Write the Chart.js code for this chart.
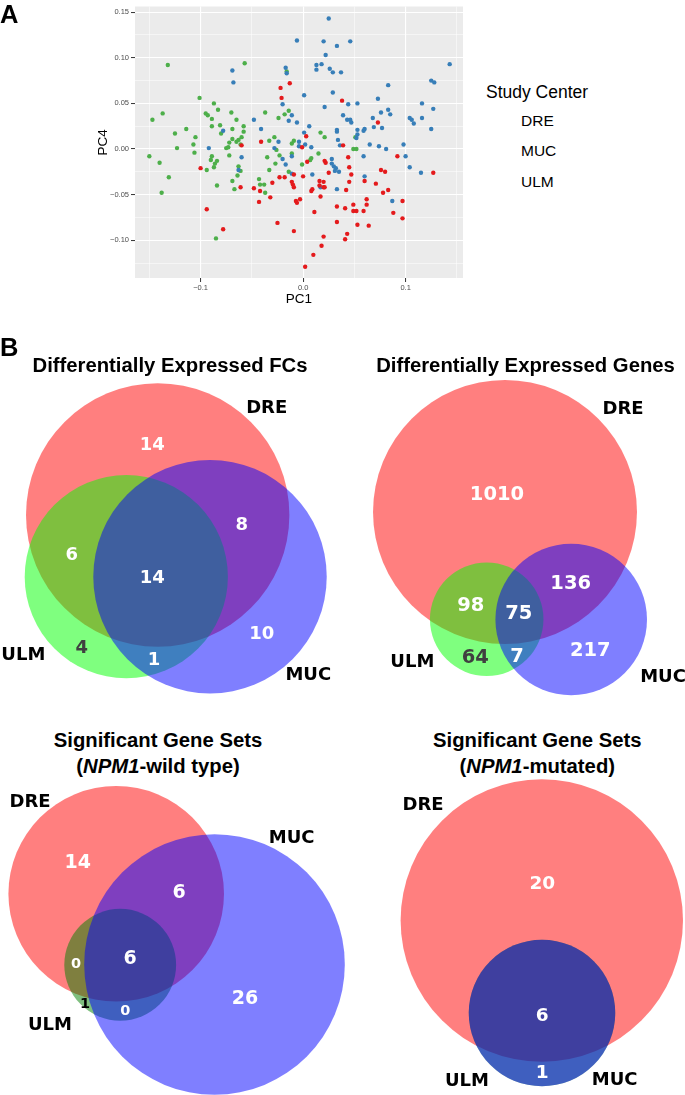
<!DOCTYPE html>
<html>
<head>
<meta charset="utf-8">
<script src="https://cdn.jsdelivr.net/npm/chart.js@4.4.1/dist/chart.umd.min.js"></script>
<style>
body{margin:0;background:#fff;}
#page{position:relative;width:685px;height:1095px;overflow:hidden;font-family:"Liberation Sans",Arial,sans-serif;}
canvas{position:absolute;}
.txt{position:absolute;white-space:nowrap;color:#000;}
.panel{font-weight:bold;font-size:25.5px;line-height:25.5px;}
.title{font-weight:bold;font-size:20.3px;line-height:26px;width:400px;text-align:center;}
</style>
</head>
<body>
<div id="page">
<canvas id="pca" width="470" height="307" style="left:0;top:0"></canvas>
<div class="txt panel" style="left:0;top:2px">A</div>
<div class="txt panel" style="left:0;top:335px">B</div>
<div class="txt" style="left:486px;top:83.5px;font-size:17.5px;line-height:17.5px">Study Center</div>

<div class="txt title" style="left:-30px;top:352.3px">Differentially Expressed FCs</div>
<div class="txt title" style="left:325.5px;top:352.3px">Differentially Expressed Genes</div>
<div class="txt title" style="left:-42px;top:727.3px">Significant Gene Sets<br>(<i>NPM1</i>-wild type)</div>
<div class="txt title" style="left:337.3px;top:727.3px">Significant Gene Sets<br>(<i>NPM1</i>-mutated)</div>
</div>

<script>
// ===============================
// Data: PCA scores (PC1, PC4) per study center
// ===============================

const centers = ['DRE', 'MUC', 'ULM'];

const drePoints = [
[-0.022,0.067],[-0.013,0.072],[-0.021,0.056],[0.038,0.053],[0.073,0.029],[0.003,0.014],[-0.041,0.008],[-0.060,0.004],[-0.001,0.002],[0.039,0.004],
[-0.100,-0.021],[-0.094,-0.066],[-0.078,-0.088],
[-0.061,-0.042],[-0.048,-0.043],[-0.042,-0.046],[-0.043,-0.058],[-0.032,-0.053],[-0.030,-0.037],[-0.023,-0.031],[-0.018,-0.031],[-0.009,-0.028],[0.000,-0.030],
[-0.011,-0.036],[-0.009,-0.042],[-0.010,-0.039],[-0.007,-0.057],[-0.006,-0.059],[-0.003,-0.055],[-0.025,-0.081],[-0.009,-0.090],[0.004,-0.014],[0.021,-0.013],
[0.022,-0.015],[0.025,-0.026],[0.008,-0.046],[0.009,-0.044],[0.016,-0.035],[0.016,-0.040],[0.020,-0.036],[0.020,-0.042],[0.021,-0.042],[0.017,-0.052],
[0.011,-0.069],[0.020,-0.096],[0.018,-0.106],[0.010,-0.116],[0.002,-0.129],[0.033,-0.080],[0.033,-0.063],[0.044,-0.009],[0.045,-0.020],[0.047,-0.028],
[0.045,-0.036],[0.042,-0.045],[0.041,-0.065],[0.049,-0.061],[0.049,-0.068],[0.052,-0.068],[0.043,-0.093],[0.041,-0.099],[0.053,-0.083],[0.064,-0.084],
[0.059,-0.068],[0.062,-0.061],[0.062,-0.055],[0.060,-0.035],[0.071,-0.038],[0.076,-0.023],[0.080,-0.025],[0.078,-0.048],[0.083,-0.045],[0.088,-0.070],
[0.097,-0.057],[0.097,-0.076],[0.092,-0.008],[0.127,-0.026]
];

const mucPoints = [
[-0.069,0.086],[-0.068,0.073],[-0.078,0.020],[-0.092,0.001],
[0.025,0.143],[-0.006,0.119],[0.020,0.118],[0.033,0.113],[0.046,0.118],[0.022,0.103],[0.013,0.092],[0.018,0.093],[0.013,0.087],[0.026,0.088],
[0.029,0.084],[0.037,0.084],[0.143,0.093],[-0.017,0.089],[-0.016,0.083],[0.125,0.075],[0.128,0.073],[0.083,0.070],[0.001,0.059],[0.029,0.062],
[0.073,0.055],[-0.020,0.049],[0.021,0.046],[0.044,0.049],[0.053,0.050],[0.116,0.050],[0.127,0.044],[0.083,0.043],[0.076,0.040],[0.085,0.038],
[0.039,0.037],[0.068,0.034],[0.104,0.034],[0.106,0.032],[0.108,0.028],[0.116,0.034],[0.043,0.032],[0.046,0.032],[0.047,0.029],[-0.011,0.037],
[-0.014,0.031],[-0.006,0.029],[-0.048,0.032],[-0.041,0.022],[0.006,0.025],[0.001,0.018],[0.033,0.021],[0.033,0.019],[0.053,0.021],[0.060,0.022],
[0.059,0.020],[0.125,0.022],[0.053,0.016],[0.052,0.012],[0.034,0.010],[0.077,0.023],[0.069,0.024],[-0.024,0.008],[-0.004,0.008],[0.002,0.005],
[-0.004,0.003],[-0.028,0.001],[0.008,0.002],[0.036,0.004],[0.065,0.005],[0.074,0.003],[0.081,0.000],[0.098,0.005],
[-0.063,-0.023],[-0.060,-0.009],[-0.020,-0.011],[-0.017,-0.017],[-0.011,-0.008],[-0.011,-0.027],[0.009,-0.028],[0.028,-0.011],[0.030,-0.019],
[0.032,-0.021],[0.031,-0.024],[0.035,-0.025],[0.028,-0.016],[0.017,-0.042],[0.033,-0.044],[0.059,-0.008],[0.060,-0.030],[0.100,-0.008],
[0.104,-0.020],[0.115,-0.026],[0.087,-0.057]
];

const ulmPoints = [
[-0.132,0.092],[-0.101,0.056],[-0.147,0.032],[-0.137,0.039],[-0.125,0.017],[-0.114,0.022],[-0.105,0.013],[-0.107,0.005],[-0.123,0.001],[-0.095,0.039],
[-0.093,0.037],[-0.087,0.050],[-0.083,0.043],[-0.089,0.033],[-0.089,0.025],[-0.081,0.026],[-0.080,0.017],[-0.070,0.040],[-0.065,0.032],[-0.069,0.022],
[-0.069,0.011],[-0.065,0.008],[-0.063,0.010],[-0.075,0.001],[-0.073,0.002],[-0.072,0.007],
[-0.057,0.094],[-0.016,0.085],[-0.037,0.040],[-0.024,0.034],[-0.018,0.038],[-0.014,0.042],[-0.058,0.025],[-0.058,0.019],[-0.060,0.013],[-0.028,0.013],
[-0.033,0.009],[-0.011,0.006],[-0.009,0.009],[0.017,0.018],[0.021,0.013],[0.051,0.013],[0.049,0.000],[0.052,0.000],[-0.026,-0.001],[-0.061,0.005],
[-0.150,-0.008],[-0.140,-0.015],[-0.131,-0.031],[-0.138,-0.048],[-0.106,-0.004],[-0.089,-0.008],[-0.090,-0.012],[-0.086,-0.016],[-0.084,-0.013],
[-0.087,-0.020],[-0.094,-0.023],[-0.084,-0.040],[-0.072,-0.007],[-0.069,-0.035],[-0.067,-0.044],[-0.064,-0.029],[-0.063,-0.019],[-0.085,-0.098],
[-0.035,-0.009],[-0.023,-0.007],[-0.027,-0.016],[-0.033,-0.023],[-0.061,-0.024],[-0.043,-0.033],[-0.042,-0.039],[-0.038,-0.039],[-0.037,-0.048],
[-0.014,-0.025],[-0.001,-0.017],[0.015,-0.005],[0.007,-0.012],[0.008,-0.010],[-0.011,-0.005]
];

const xTickValues = [-0.15, -0.1, -0.05, 0, 0.05, 0.1, 0.15];
const xTickLabels = ['', '\u22120.1', '', '0.0', '', '0.1', ''];
const yTickValues = [-0.125, -0.1, -0.075, -0.05, -0.025, 0, 0.025, 0.05, 0.075, 0.1, 0.125, 0.15];
const yTickLabels = ['', '\u22120.10', '', '\u22120.05', '', '0.00', '', '0.05', '', '0.10', '', '0.15'];

// ===============================
// Data: Venn region counts
// ===============================

const setNames = ['DRE', 'ULM', 'MUC'];
const regionKeys = ['DRE', 'ULM', 'MUC', 'DRE+ULM', 'DRE+MUC', 'ULM+MUC', 'DRE+ULM+MUC'];

const fcCounts   = [14, 4, 10, 6, 8, 1, 14];
const geneCounts = [1010, 64, 217, 98, 136, 7, 75];
const wildCounts = [14, 1, 26, 0, 6, 0, 6];
const mutCounts  = [20, 0, 0, 0, 0, 1, 6];


// ===============================
// PCA scatter (ggplot look)
// ===============================

const pointColors = ['#E41A1C', '#377EB8', '#4DAF4A'];
const pcaPoints = [drePoints, mucPoints, ulmPoints];

const panelBg = {
  id: 'panelBg',
  beforeDraw(chart) {
    const {ctx, chartArea: a} = chart;
    ctx.save();
    ctx.fillStyle = '#EBEBEB';
    ctx.fillRect(a.left, a.top, a.right - a.left, a.bottom - a.top);
    ctx.restore();
  }
};

function gridFor(labels) {
  return {
    color: '#FFFFFF',
    lineWidth: c => labels[c.index] ? 1.1 : 0.5,
    tickColor: c => labels[c.index] ? '#333333' : 'rgba(0,0,0,0)',
    tickLength: 4,
    tickWidth: 1
  };
}

new Chart(document.getElementById('pca'), {
  type: 'scatter',
  data: {
    datasets: centers.map((c, i) => ({
      label: c,
      data: pcaPoints[i].map(p => ({x: p[0], y: p[1]})),
      backgroundColor: pointColors[i],
      pointRadius: 2.2,
      borderWidth: 0
    }))
  },
  options: {
    responsive: false,
    animation: false,
    events: [],
    layout: {padding: {left: 95, top: 5, right: 7, bottom: 0}},
    plugins: {legend: {display: false}, tooltip: {enabled: false}},
    scales: {
      x: {
        type: 'linear', min: -0.164, max: 0.156,
        afterBuildTicks: s => { s.ticks = xTickValues.map(v => ({value: v})); },
        afterFit: s => { s.height = 29; },
        grid: gridFor(xTickLabels),
        border: {display: false},
        ticks: {autoSkip: false, maxRotation: 0, padding: 1, color: '#4D4D4D',
                font: {family: 'Liberation Sans', size: 7.5}, callback: (v, i) => xTickLabels[i]},
        title: {display: true, text: 'PC1', color: '#000', padding: 0,
                font: {family: 'Liberation Sans', size: 13.5}}
      },
      y: {
        type: 'linear', min: -0.1414, max: 0.1562,
        afterBuildTicks: s => { s.ticks = yTickValues.map(v => ({value: v})); },
        afterFit: s => { s.width = 40; },
        grid: gridFor(yTickLabels),
        border: {display: false},
        ticks: {autoSkip: false, padding: 2, color: '#4D4D4D',
                font: {family: 'Liberation Sans', size: 7.5}, callback: (v, i) => yTickLabels[i]},
        title: {display: true, text: 'PC4', color: '#000', padding: 0,
                font: {family: 'Liberation Sans', size: 13.5}}
      }
    }
  },
  plugins: [panelBg]
});

// legend (ggplot draws no visible keys here)
const legendTops = [113.2, 143.2, 173.7];
centers.forEach((c, i) => {
  const d = document.createElement('div');
  d.className = 'txt';
  d.style.cssText = 'left:521px;top:' + legendTops[i] + 'px;font-size:15.5px;line-height:15.5px';
  d.textContent = c;
  document.getElementById('page').appendChild(d);
});


// ===============================
// Venn diagrams (area-proportional circles)
// ===============================

function setTotal(counts, name) {
  let t = 0;
  regionKeys.forEach((k, i) => { if (k.split('+').includes(name)) t += counts[i]; });
  return t;
}

const vennText = {
  id: 'vennText',
  afterDatasetsDraw(chart, args, opts) {
    const {ctx, scales: {x, y}} = chart;
    ctx.save();
    ctx.textAlign = 'center';
    ctx.textBaseline = 'alphabetic';
    opts.items.forEach(t => {
      ctx.font = 'bold ' + t.size + 'px "DejaVu Sans"';
      ctx.fillStyle = t.color;
      ctx.fillText(t.text, x.getPixelForValue(t.x), y.getPixelForValue(t.y) + t.size * 0.729 / 2);
    });
    ctx.restore();
  }
};

const fillsBright = ['rgba(255,0,0,0.5)', 'rgba(0,255,0,0.5)', 'rgba(0,0,255,0.5)'];
const fillsDark   = ['rgba(255,0,0,0.5)', 'rgba(0,128,0,0.5)', 'rgba(0,0,255,0.5)'];

const vennLayouts = [
  {counts: fcCounts, box: [0, 330, 345, 370], unit: 20.32, fills: fillsBright,
   circles: [[157.7, 515], [126.3, 576.7], [210, 576.7]],
   regionPos: [[152.3, 443.3], [81.7, 646.7], [261.7, 632.3], [71.7, 553.3], [241.7, 523.3], [154, 658.3], [152.3, 576]],
   regionColor: ['#fff', '#404040', '#fff', '#fff', '#fff', '#fff', '#fff'],
   regionSize: [18, 18, 18, 18, 18, 18, 18],
   namePos: [[266.7, 406.7], [23.3, 653.3], [308.3, 673.3]]},
  {counts: geneCounts, box: [343, 330, 342, 370], unit: 3.634, fills: fillsBright,
   circles: [[505, 512], [486.7, 619.2], [571.2, 619.5]],
   regionPos: [[497, 492.7], [475.3, 656], [590.3, 649.3], [470.7, 604], [570.7, 581.7], [517, 655], [518.7, 611.7]],
   regionColor: ['#fff', '#404040', '#fff', '#fff', '#fff', '#fff', '#fff'],
   regionSize: [19.5, 19.5, 19.5, 19.5, 19.5, 19.5, 19.5],
   namePos: [[623, 407.3], [412.3, 660], [663, 675]]},
  {counts: wildCounts, box: [0, 700, 350, 395], unit: 21.14, fills: fillsDark,
   circles: [[116.2, 893.8], [120.2, 964.8], [214.5, 964.5]],
   regionPos: [[77.7, 861], [85, 1002.7], [245, 996.7], [76, 962.3], [179, 891], [125.3, 1009.3], [130, 956.7]],
   regionColor: ['#fff', '#000', '#fff', '#fff', '#fff', '#fff', '#fff'],
   regionSize: [19, 14.5, 19, 14.5, 19, 14.5, 19],
   namePos: [[30, 800], [50, 1023.3], [291.7, 836]]},
  {counts: mutCounts, box: [350, 700, 335, 395], unit: 27.69, fills: fillsDark,
   circles: [[541.8, 920.5], [542, 1013], [542, 1013]],
   regionPos: [[542.3, 882.7], null, null, null, null, [542.3, 1071.7], [542.3, 1014.3]],
   regionColor: ['#fff', '#fff', '#fff', '#fff', '#fff', '#fff', '#fff'],
   regionSize: [18.5, 18.5, 18.5, 18.5, 18.5, 18.5, 18.5],
   namePos: [[423, 803.3], [467, 1079.3], [614.7, 1078.3]]}
];

vennLayouts.forEach(v => {
  const [left, top, w, h] = v.box;
  const cv = document.createElement('canvas');
  cv.width = w;
  cv.height = h;
  cv.style.left = left + 'px';
  cv.style.top = top + 'px';
  document.getElementById('page').appendChild(cv);

  const items = [];
  regionKeys.forEach((k, i) => {
    if (!v.regionPos[i]) return;
    items.push({text: String(v.counts[i]), x: v.regionPos[i][0], y: v.regionPos[i][1],
                color: v.regionColor[i], size: v.regionSize[i]});
  });
  setNames.forEach((s, i) => {
    items.push({text: s, x: v.namePos[i][0], y: v.namePos[i][1], color: '#000', size: 18});
  });

  new Chart(cv, {
    type: 'scatter',
    data: {
      datasets: [{
        data: setNames.map((s, i) => ({
          x: v.circles[i][0], y: v.circles[i][1],
          r: v.unit * Math.sqrt(setTotal(v.counts, s))
        })),
        backgroundColor: v.fills,
        borderWidth: 0,
        clip: false,
        pointRadius: c => {
          const xs = c.chart.scales.x;
          return xs.getPixelForValue(c.raw.x + c.raw.r) - xs.getPixelForValue(c.raw.x);
        }
      }]
    },
    options: {
      responsive: false,
      animation: false,
      events: [],
      layout: {padding: 0},
      plugins: {legend: {display: false}, tooltip: {enabled: false}, vennText: {items: items}},
      scales: {
        x: {type: 'linear', display: false, min: left, max: left + w},
        y: {type: 'linear', display: false, min: top, max: top + h, reverse: true}
      }
    },
    plugins: [vennText]
  });
});
</script>
</body>
</html>
